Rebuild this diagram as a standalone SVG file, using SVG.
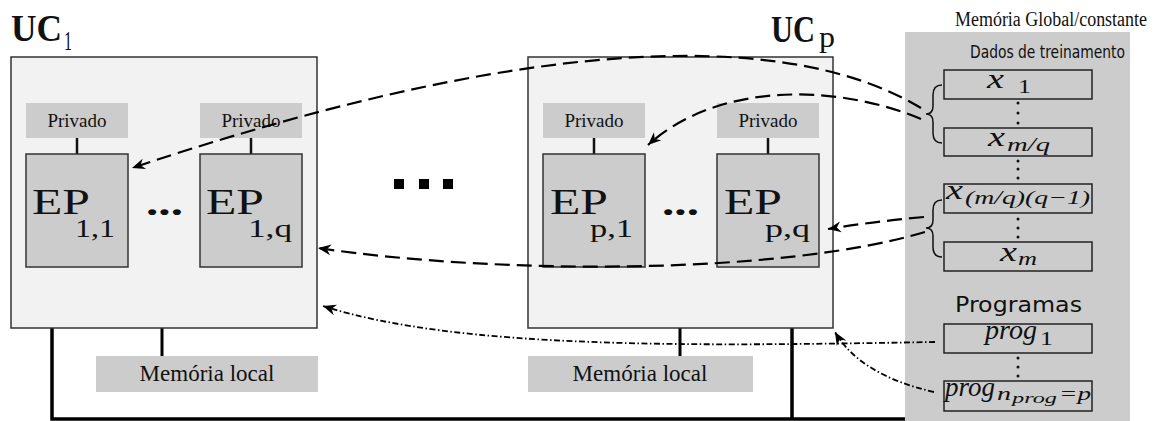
<svg xmlns="http://www.w3.org/2000/svg" width="1164" height="421" viewBox="0 0 1164 421">
<style>
.uc{fill:#f2f2f2;stroke:#333;stroke-width:1.5}
.ep{fill:#cccccc;stroke:#333;stroke-width:1.5}
.pv{fill:#cccccc}
.db{fill:none;stroke:#222;stroke-width:1.5}
.serif{font-family:"Liberation Serif","Times New Roman",serif;fill:#111}
.sans{font-family:"DejaVu Sans","Liberation Sans",sans-serif;fill:#111}
.it{font-family:"Liberation Serif","Times New Roman",serif;font-style:italic;fill:#111}
.wire{stroke:#111;stroke-width:2.5;fill:none}
.bus{stroke:#000;stroke-width:3.5;fill:none}
.dash{stroke:#000;stroke-width:2.2;fill:none;stroke-dasharray:15 7}
.dd{stroke:#000;stroke-width:1.8;fill:none;stroke-dasharray:6 2.5 1.5 2.5}
.brace{stroke:#111;stroke-width:1.5;fill:none}
</style>
<defs>
<marker id="ah" viewBox="-14 -7 15 14" refX="0" refY="0" markerWidth="15" markerHeight="14" orient="auto" markerUnits="userSpaceOnUse">
<path d="M0,0 L-13,-5.5 L-9,0 L-13,5.5 Z" fill="#000"/>
</marker>
</defs>

<rect x="905" y="32" width="225" height="389" fill="#cccccc"/>
<text class="serif" x="955" y="26" font-size="20" textLength="192" lengthAdjust="spacingAndGlyphs">Memória Global/constante</text>

<g id="bus">
<path class="bus" d="M52,328 V419 H905 M792,328 V419"/>
<path class="bus" d="M162,328 V356 M680,328 V356" style="stroke-width:3"/>
</g>

<g id="uc1">
<rect class="uc" x="11" y="57" width="306" height="271"/>
<text class="serif" x="11" y="41" font-size="38" font-weight="bold" textLength="51" lengthAdjust="spacingAndGlyphs">UC</text>
<text class="serif" x="64" y="50" font-size="28" textLength="8" lengthAdjust="spacingAndGlyphs">1</text>
</g>
<g id="ucp">
<rect class="uc" x="528" y="57" width="305" height="271"/>
<text class="serif" x="771" y="42" font-size="38" font-weight="bold" textLength="44" lengthAdjust="spacingAndGlyphs">UC</text>
<text class="serif" x="819" y="47" font-size="30" textLength="16" lengthAdjust="spacingAndGlyphs">p</text>
</g>

<g id="priv11"><rect class="pv" x="26" y="103" width="102" height="35"/><text class="serif" x="77" y="127" font-size="19" text-anchor="middle">Privado</text></g>
<g id="priv1q"><rect class="pv" x="200" y="103" width="102" height="35"/><text class="serif" x="251" y="127" font-size="19" text-anchor="middle">Privado</text></g>
<g id="privp1"><rect class="pv" x="543" y="103" width="102" height="35"/><text class="serif" x="594" y="127" font-size="19" text-anchor="middle">Privado</text></g>
<g id="privpq"><rect class="pv" x="717" y="103" width="102" height="35"/><text class="serif" x="768" y="127" font-size="19" text-anchor="middle">Privado</text></g>

<g id="wires">
<path class="wire" d="M77,138 V154 M251,138 V154 M594,138 V154 M768,138 V154"/>
</g>

<g id="ep11"><rect class="ep" x="26" y="154" width="102" height="113"/>
<text class="serif" x="32" y="214" font-size="36" textLength="58" lengthAdjust="spacingAndGlyphs">EP</text>
<text class="serif" x="75" y="237" font-size="25" textLength="40" lengthAdjust="spacingAndGlyphs">1,1</text></g>
<g id="ep1q"><rect class="ep" x="200" y="154" width="102" height="113"/>
<text class="serif" x="206" y="214" font-size="36" textLength="58" lengthAdjust="spacingAndGlyphs">EP</text>
<text class="serif" x="248" y="237" font-size="25" textLength="44" lengthAdjust="spacingAndGlyphs">1,q</text></g>
<g id="epp1"><rect class="ep" x="543" y="154" width="102" height="113"/>
<text class="serif" x="550" y="214" font-size="36" textLength="58" lengthAdjust="spacingAndGlyphs">EP</text>
<text class="serif" x="590" y="237" font-size="25" textLength="43" lengthAdjust="spacingAndGlyphs">p,1</text></g>
<g id="eppq"><rect class="ep" x="717" y="154" width="102" height="113"/>
<text class="serif" x="724" y="214" font-size="36" textLength="58" lengthAdjust="spacingAndGlyphs">EP</text>
<text class="serif" x="765" y="237" font-size="25" textLength="45" lengthAdjust="spacingAndGlyphs">p,q</text></g>

<text class="serif" x="146" y="215" font-size="36" font-weight="bold" textLength="37" lengthAdjust="spacingAndGlyphs">...</text>
<text class="serif" x="662" y="215" font-size="36" font-weight="bold" textLength="37" lengthAdjust="spacingAndGlyphs">...</text>
<g id="bigdots" fill="#000">
<rect x="394" y="179" width="10" height="10"/><rect x="419" y="179" width="10" height="10"/><rect x="443" y="179" width="10" height="10"/>
</g>

<g id="memlocal1"><rect class="pv" x="96" y="356" width="222" height="36"/><text class="serif" x="207" y="381" font-size="23" text-anchor="middle">Memória local</text></g>
<g id="memlocalp"><rect class="pv" x="528" y="356" width="225" height="36"/><text class="serif" x="640" y="381" font-size="23" text-anchor="middle">Memória local</text></g>

<g id="global">
<text class="sans" x="970" y="58" font-size="17" textLength="155" lengthAdjust="spacingAndGlyphs">Dados de treinamento</text>
<rect class="db" x="944" y="70" width="148" height="29"/>
<rect class="db" x="944" y="128" width="148" height="28"/>
<rect class="db" x="944" y="184" width="148" height="29"/>
<rect class="db" x="944" y="242" width="148" height="29"/>
<text class="sans" x="955" y="312" font-size="22" textLength="127" lengthAdjust="spacingAndGlyphs">Programas</text>
<rect class="db" x="944" y="324" width="148" height="29"/>
<rect class="db" x="944" y="381" width="148" height="30"/>

<text class="it" x="987" y="88" font-size="27" textLength="17" lengthAdjust="spacingAndGlyphs">x</text>
<text class="serif" x="1018" y="93" font-size="19" textLength="13" lengthAdjust="spacingAndGlyphs">1</text>
<text class="it" x="988" y="146" font-size="27" textLength="17" lengthAdjust="spacingAndGlyphs">x</text>
<text class="it" x="1007" y="151" font-size="19" textLength="43" lengthAdjust="spacingAndGlyphs">m/q</text>
<text class="it" x="946" y="199" font-size="27" textLength="17" lengthAdjust="spacingAndGlyphs">x</text>
<text class="it" x="965" y="204" font-size="19" textLength="125" lengthAdjust="spacingAndGlyphs">(m/q)(q−1)</text>
<text class="it" x="1000" y="261" font-size="27" textLength="17" lengthAdjust="spacingAndGlyphs">x</text>
<text class="it" x="1018" y="265" font-size="19" textLength="19" lengthAdjust="spacingAndGlyphs">m</text>
<text class="it" x="985" y="339" font-size="27" textLength="52" lengthAdjust="spacingAndGlyphs">prog</text>
<text class="serif" x="1040" y="345" font-size="19" textLength="13" lengthAdjust="spacingAndGlyphs">1</text>
<text class="it" x="945" y="396" font-size="27" textLength="50" lengthAdjust="spacingAndGlyphs">prog</text>
<text class="it" x="997" y="400" font-size="19" textLength="14" lengthAdjust="spacingAndGlyphs">n</text>
<text class="it" x="1012" y="403" font-size="15" textLength="45" lengthAdjust="spacingAndGlyphs">prog</text>
<text class="it" x="1059" y="400" font-size="19" textLength="32" lengthAdjust="spacingAndGlyphs">=p</text>

<g fill="#111">
<circle cx="1018" cy="103" r="1.5"/><circle cx="1018" cy="113" r="1.5"/><circle cx="1018" cy="123" r="1.5"/>
<circle cx="1018" cy="161" r="1.5"/><circle cx="1018" cy="169" r="1.5"/><circle cx="1018" cy="178" r="1.5"/>
<circle cx="1018" cy="219" r="1.5"/><circle cx="1018" cy="228" r="1.5"/><circle cx="1018" cy="237" r="1.5"/>
<circle cx="1018" cy="358" r="1.5"/><circle cx="1018" cy="367" r="1.5"/><circle cx="1018" cy="376" r="1.5"/>
</g>
<path class="brace" d="M942,85 Q933,85 933,95 L933,106 Q933,114 926,114 Q933,114 933,122 L933,133 Q933,143 942,143"/>
<path class="brace" d="M942,200 Q933,200 933,210 L933,220 Q933,228 926,228 Q933,228 933,236 L933,247 Q933,257 942,257"/>
</g>

<g id="connectors">
<path class="dash" d="M921,108 C800,35 560,25 132,168" marker-end="url(#ah)"/>
<path class="dash" d="M921,119 C840,85 720,80 648,145" marker-end="url(#ah)"/>
<path class="dash" d="M924,217 Q870,222 828,229" marker-end="url(#ah)"/>
<path class="dash" d="M925,232 C780,275 500,275 318,248" marker-end="url(#ah)"/>
<path class="dd" d="M935,342 C700,346 460,350 323,306" marker-end="url(#ah)"/>
<path class="dd" d="M934,392 Q860,375 835,332" marker-end="url(#ah)"/>
</g>
</svg>
